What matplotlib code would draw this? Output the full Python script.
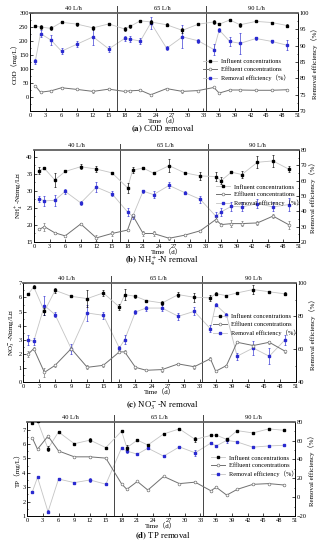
import matplotlib
matplotlib.use("Agg")
import matplotlib.pyplot as plt
from matplotlib.lines import Line2D
from matplotlib.ticker import MultipleLocator, FixedLocator

plt.rcParams['font.family'] = ['Liberation Serif', 'Noto Sans CJK SC']
plt.rcParams['mathtext.fontset'] = 'stix'

days = [1, 2, 4, 6, 9, 12, 15, 18, 19, 21, 23, 26, 29, 32, 35, 36, 38, 40, 43, 46, 49]
phase_labels = ["40 L/h", "65 L/h", "90 L/h"]
phase_label_days = [8.2, 25.2, 43.0]
phase_bounds = [16.5, 33.5]
legend_labels = ["Influent concentrations", "Effluent concentrations", "Removal efficiency（%）"]

# (a) COD
cod_ticks = [0, 50, 100, 150, 200, 250, 300]
cod_inf = [253, 250, 245, 267, 260, 247, 261, 243, 252, 272, 268, 258, 238, 260, 268, 260, 275, 258, 270, 266, 255]
cod_inf_err = [3, 6, 7, 3, 6, 8, 3, 6, 4, 3, 8, 5, 10, 4, 7, 4, 3, 8, 3, 3, 6]
cod_eff = [40, 17, 22, 33, 27, 20, 28, 20, 22, 24, 8, 30, 20, 23, 34, 14, 25, 25, 24, 24, 26]
cod_eff_err = [3, 3, 3, 3, 3, 5, 3, 3, 3, 3, 4, 3, 4, 3, 3, 3, 3, 3, 2, 2, 2]
cod_rem = [85.2, 93.7, 91.7, 88.3, 90.5, 92.7, 89.0, 92.2, 92.0, 91.4, 97.0, 89.2, 92.7, 91.5, 88.8, 94.8, 91.3, 90.7, 92.2, 91.3, 90.1]
cod_rem_err = [0.7, 1.0, 1.5, 1.0, 0.9, 2.5, 0.8, 0.9, 0.9, 0.8, 1.8, 0.6, 3.5, 0.6, 1.8, 0.5, 1.3, 3.3, 0.6, 0.5, 1.5]

# (b) NH4+-N
nh_ticks = [15, 20, 25, 30, 35, 40]
nh_inf = [35.9, 36.6, 33.2, 35.7, 37.1, 36.4, 35.3, 30.9, 36.1, 36.7, 35.2, 37.4, 35.3, 34.4, 34.2, 33.0, 35.5, 34.8, 38.4, 38.8, 36.4]
nh_inf_err = [1.0, 0.3, 2.0, 0.2, 0.7, 1.0, 0.3, 1.5, 0.8, 0.3, 0.3, 2.0, 0.3, 1.2, 1.2, 1.0, 0.3, 1.0, 1.8, 1.8, 0.8]
nh_eff = [18.7, 19.5, 17.7, 16.8, 20.3, 16.2, 17.5, 18.5, 22.8, 17.5, 17.5, 16.1, 17.0, 18.3, 21.6, 20.1, 20.4, 20.4, 20.6, 22.6, 20.1]
nh_eff_err = [0.3, 1.2, 0.3, 0.3, 0.3, 0.8, 0.6, 0.3, 0.5, 0.6, 0.8, 0.5, 0.3, 0.3, 0.8, 0.5, 1.0, 0.8, 0.5, 0.5, 1.2]
nh_rem = [48.3, 46.8, 47.2, 53.0, 45.5, 55.8, 51.5, 39.6, 36.8, 53.2, 50.9, 56.9, 52.2, 47.8, 36.8, 39.6, 43.3, 42.9, 45.0, 42.9, 44.4]
nh_rem_err = [2.0, 3.5, 3.5, 1.5, 1.5, 3.5, 1.8, 2.5, 1.5, 1.0, 2.5, 2.0, 0.8, 2.5, 2.5, 2.5, 3.0, 3.0, 3.0, 3.0, 4.0]

# (c) NO3--N
no_ticks = [0, 1, 2, 3, 4, 5, 6, 7]
no_inf = [6.25, 6.75, 5.02, 6.50, 6.08, 5.92, 6.32, 5.33, 6.20, 6.08, 5.78, 5.61, 6.20, 6.01, 5.97, 6.27, 6.13, 6.32, 6.56, 6.40, 6.25]
no_inf_err = [0.05, 0.1, 0.25, 0.2, 0.05, 0.6, 0.2, 0.2, 0.4, 0.1, 0.05, 0.15, 0.2, 0.3, 0.2, 0.1, 0.05, 0.1, 0.3, 0.05, 0.1]
no_eff = [2.0, 2.38, 0.7, 1.2, 2.38, 1.06, 1.2, 2.15, 2.15, 1.06, 0.85, 0.9, 1.3, 1.1, 1.67, 0.78, 1.18, 2.83, 2.6, 2.83, 2.19]
no_eff_err = [0.2, 0.1, 0.3, 0.1, 0.1, 0.15, 0.1, 0.1, 0.1, 0.1, 0.05, 0.15, 0.1, 0.15, 0.1, 0.05, 0.05, 0.05, 0.1, 0.1, 0.1]
no_rem = [65.9, 64.8, 86.5, 81.0, 60.4, 82.0, 80.6, 60.8, 65.9, 82.6, 85.0, 85.0, 80.0, 83.0, 72.5, 87.1, 81.0, 55.8, 60.8, 55.8, 65.9]
no_rem_err = [3, 2, 6, 1.5, 3, 5, 2, 1.5, 2.5, 1.5, 1.5, 2, 2, 2.5, 2, 1, 1, 2, 4, 5, 3]

# (d) TP
tp_ticks = [1, 2, 3, 4, 5, 6, 7]
tp_inf = [7.45, 7.6, 5.68, 6.84, 6.02, 6.27, 5.75, 6.89, 5.75, 6.27, 5.93, 6.70, 7.05, 6.32, 6.60, 6.62, 6.32, 6.93, 6.77, 7.05, 6.95]
tp_inf_err = [0.05, 0.05, 0.15, 0.05, 0.05, 0.15, 0.05, 0.05, 0.15, 0.05, 0.1, 0.05, 0.05, 0.2, 0.05, 0.05, 0.1, 0.05, 0.05, 0.05, 0.05]
tp_eff = [6.43, 5.64, 6.55, 5.52, 5.11, 5.11, 5.02, 3.23, 2.85, 3.40, 2.80, 3.75, 3.25, 3.35, 2.75, 3.00, 2.45, 2.85, 3.20, 3.25, 3.15]
tp_eff_err = [0.05, 0.05, 0.1, 0.05, 0.05, 0.05, 0.05, 0.05, 0.05, 0.05, 0.05, 0.05, 0.05, 0.05, 0.05, 0.05, 0.05, 0.05, 0.05, 0.05, 0.05]
tp_rem = [5.3, 21.0, -15.5, 19.2, 15.4, 18.2, 13.7, 52.2, 48.8, 45.6, 51.9, 43.5, 53.3, 47.0, 57.4, 54.3, 60.2, 58.5, 53.0, 54.3, 55.0]
tp_rem_err = [1, 1, 1.5, 1, 1, 2, 1, 1, 2, 1, 1, 1, 1, 3, 1, 1, 3, 1, 1, 1, 1]

W, H = 325, 550
fig = plt.figure(figsize=(W / 100, H / 100), dpi=100)

FS = 4.6
FL = 5.0
GRAY_LIGHT = '#c4c4c4'
GRAY_DARK = '#707070'
BLUE = '#2a2ad0'


def rect(l, r, t, b):
    return [l / W, 1 - b / H, (r - l) / W, (b - t) / H]


def panel(box, inf, inf_err, eff, eff_err, rem, rem_err, ylim, yticks, yminor,
          rlim, rstep, rminor, ylabel, caption, cap_y, leg_anchor):
    ax = fig.add_axes(rect(*box))
    ax2 = ax.twinx()
    ax.set_zorder(ax2.get_zorder() + 1)
    ax.patch.set_visible(False)
    ax.plot(days, inf, color=GRAY_LIGHT, lw=0.6, zorder=2)
    ax.errorbar(days, inf, yerr=inf_err, fmt='s', color='k', ms=1.8,
                elinewidth=0.45, capsize=1.0, capthick=0.45, zorder=4)
    ax.plot(days, eff, color=GRAY_DARK, lw=0.7, zorder=2)
    ax.errorbar(days, eff, yerr=eff_err, fmt='o', mfc='white', mec=GRAY_DARK,
                ecolor=GRAY_DARK, ms=2.0, mew=0.45, elinewidth=0.45,
                capsize=1.0, capthick=0.45, zorder=4)
    ax2.plot(days, rem, color=GRAY_LIGHT, lw=0.6, zorder=2)
    ax2.errorbar(days, rem, yerr=rem_err, fmt='s', color=BLUE, ms=1.8,
                 elinewidth=0.45, capsize=1.0, capthick=0.45, zorder=4)
    ax.set_xlim(0, 51)
    ax.set_ylim(*ylim)
    ax2.set_ylim(*rlim)
    ax.xaxis.set_major_locator(MultipleLocator(3))
    ax.yaxis.set_major_locator(FixedLocator(yticks))
    ax.yaxis.set_minor_locator(MultipleLocator(yminor))
    ax2.yaxis.set_major_locator(MultipleLocator(rstep))
    ax2.yaxis.set_minor_locator(MultipleLocator(rminor))
    for a in (ax, ax2):
        a.tick_params(which='both', direction='in', labelsize=FS, width=0.5, pad=1.0)
        a.tick_params(which='major', length=2.0)
        a.tick_params(which='minor', length=1.0)
        for s in a.spines.values():
            s.set_linewidth(0.6)
        a.spines['top'].set_linewidth(1.1)
        a.spines['top'].set_color('#666666')
    ax.tick_params(axis='x', top=False, pad=1.2)
    ax.set_xlabel("Time（d）", fontsize=FL, labelpad=0.0)
    ax.set_ylabel(ylabel, fontsize=FL, labelpad=0.8)
    ax2.set_ylabel("Removal efficiency（%）", fontsize=FL, labelpad=1.5)
    for xb in phase_bounds:
        ax.plot([xb, xb], [0, 1.07], transform=ax.get_xaxis_transform(),
                color='#444444', lw=0.7, clip_on=False, zorder=1)
    for lab, xd in zip(phase_labels, phase_label_days):
        ax.text(xd, 1.02, lab, transform=ax.get_xaxis_transform(),
                ha='center', va='bottom', fontsize=FS)
    handles = [
        Line2D([], [], color=GRAY_LIGHT, lw=0.6, marker='s', mfc='k', mec='k', ms=1.8),
        Line2D([], [], color=GRAY_DARK, lw=0.7, marker='o', mfc='white', mec=GRAY_DARK, ms=2.0, mew=0.45),
        Line2D([], [], color=GRAY_LIGHT, lw=0.6, marker='s', mfc=BLUE, mec=BLUE, ms=1.8),
    ]
    ax.legend(handles, legend_labels, loc='center left', bbox_to_anchor=leg_anchor,
              frameon=False, fontsize=FS, handlelength=2.2, handletextpad=0.6,
              labelspacing=0.35, borderpad=0.2)
    fig.text(0.5, 1 - cap_y / H, caption, ha='center', va='center', fontsize=6.3)
    return ax, ax2


panel((30, 298, 13, 111), cod_inf, cod_inf_err, cod_eff, cod_eff_err, cod_rem, cod_rem_err,
      (-50, 300), cod_ticks, 25, (70, 100), 5, 2.5, "COD（mg/L）",
      r"$\mathbf{(a)}$ COD removal", 129, (0.63, 0.42))
panel((34, 299, 150, 242), nh_inf, nh_inf_err, nh_eff, nh_eff_err, nh_rem, nh_rem_err,
      (15, 42), nh_ticks, 2.5, (20, 80), 10, 5, r"NH$_4^+$-N（mg/L）",
      r"$\mathbf{(b)}$ NH$_4^+$-N removal", 261, (0.67, 0.51))
panel((23, 296, 283.3, 382.3), no_inf, no_inf_err, no_eff, no_eff_err, no_rem, no_rem_err,
      (0, 7), no_ticks, 0.5, (40, 100), 20, 10, r"NO$_3^-$-N（mg/L）",
      r"$\mathbf{(c)}$ NO$_3^-$-N removal", 406, (0.68, 0.58))
panel((27, 295, 421.7, 516), tp_inf, tp_inf_err, tp_eff, tp_eff_err, tp_rem, tp_rem_err,
      (1, 7.55), tp_ticks, 0.5, (-20, 80), 20, 10, "TP（mg/L）",
      r"$\mathbf{(d)}$ TP removal", 536, (0.67, 0.53))

fig.savefig("out.png", dpi=100)
